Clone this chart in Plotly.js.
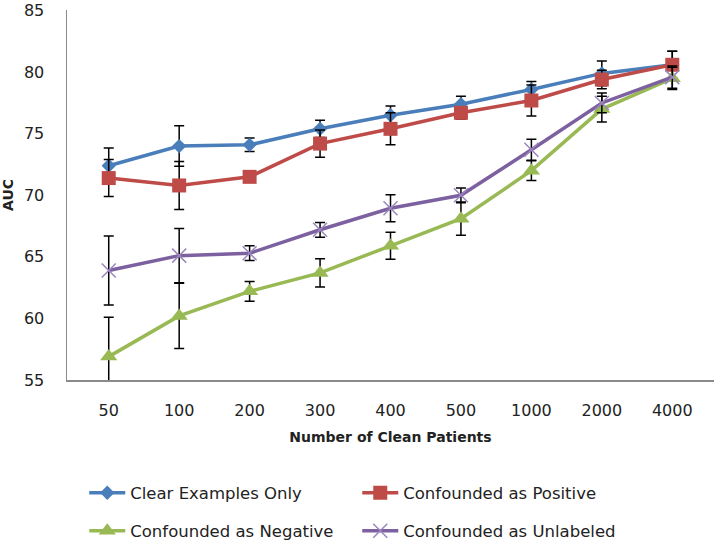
<!DOCTYPE html>
<html><head><meta charset="utf-8">
<script src="https://cdn.plot.ly/plotly-3.0.1.min.js"></script>
<style>body{margin:0;background:#fff}#chart{width:714px;height:546px}</style>
</head><body><div id="chart"></div>
<script>
const categories = ["50","100","200","300","400","500","1000","2000","4000"];
const seriesNames = ["Clear Examples Only","Confounded as Positive","Confounded as Negative","Confounded as Unlabeled"];
const clearOnly      = [72.4, 74.0, 74.1, 75.4, 76.5, 77.4, 78.6, 79.9, 80.6];
const clearOnlyErr   = [1.45, 1.65, 0.55, 0.7, 0.75, 0.65, 0.65, 1.0, 1.1];
const confPositive    = [71.4, 70.8, 71.5, 74.2, 75.4, 76.7, 77.7, 79.4, 80.6];
const confPositiveErr = [1.5, 1.95, 0.4, 1.1, 1.3, 0.5, 1.25, 0.75, 1.1];
const confNegative    = [56.9, 60.2, 62.2, 63.7, 65.9, 68.1, 72.0, 77.0, 79.5];
const confNegativeErr = [3.2, 2.65, 0.8, 1.15, 1.1, 1.35, 0.8, 1.05, 0.9];
const confUnlabeled    = [63.9, 65.1, 65.3, 67.2, 68.95, 70.0, 73.7, 77.5, 79.6];
const confUnlabeledErr = [2.8, 2.2, 0.6, 0.6, 1.1, 0.6, 0.85, 0.8, 0.9];
const yTicks = [55, 60, 65, 70, 75, 80, 85];

const FONT = "'DejaVu Sans', sans-serif";
function mk(name, y, err, color, symbol, size, legend, mline) {
  return {
    type: "scatter", mode: "lines+markers", name: name,
    x: categories, y: y, legend: legend,
    line: {color: color, width: 3.5},
    marker: {color: color, symbol: symbol, size: size, line: mline || {width: 0}},
    error_y: {type: "data", array: err, visible: true, color: "#000", thickness: 1.5, width: 5}
  };
}
const data = [
  mk(seriesNames[0], clearOnly, clearOnlyErr, "#4A7EBB", "diamond", 11, "legend"),
  mk(seriesNames[1], confPositive, confPositiveErr, "#BE4B48", "square", 14, "legend"),
  mk(seriesNames[2], confNegative, confNegativeErr, "#98B954", "triangle-up", 15, "legend2"),
  mk(seriesNames[3], confUnlabeled, confUnlabeledErr, "#7D60A0", "x-thin", 14, "legend2", {color: "#9C86BD", width: 1.5})
];
const legendBase = {
  orientation: "h", xref: "container", yref: "container", xanchor: "left", yanchor: "middle",
  entrywidth: 222, entrywidthmode: "pixels", bgcolor: "rgba(0,0,0,0)", itemwidth: 36,
  font: {family: FONT, size: 16.5, color: "#222"}
};
const layout = {
  width: 714, height: 546,
  margin: {l: 67, r: 0, t: 10, b: 166},
  paper_bgcolor: "#fff", plot_bgcolor: "#fff",
  font: {family: FONT, size: 15, color: "#222"},
  showlegend: true,
  xaxis: {
    type: "category", showgrid: false, zeroline: false, showline: true,
    linecolor: "#8A8A8A", linewidth: 1.5, ticks: "", ticklabelstandoff: 15,
    tickfont: {family: FONT, size: 16, color: "#222"},
    title: {text: "<b>Number of Clean Patients</b>", font: {family: FONT, size: 14, color: "#222"}, standoff: 13}
  },
  yaxis: {
    range: [55, 85.05], tickvals: yTicks, ticklabeloverflow: "allow", showgrid: false, zeroline: false, showline: true,
    linecolor: "#8A8A8A", linewidth: 1.5, ticks: "", ticklabelstandoff: 18,
    tickfont: {family: FONT, size: 16, color: "#222"},
    title: {text: "<b>AUC</b>", font: {family: FONT, size: 14, color: "#222"}, standoff: 11}
  },
  legend: Object.assign({}, legendBase, {x: 0.118, y: 1 - 493/546}),
  legend2: Object.assign({}, legendBase, {x: 0.118, y: 1 - 531/546})
};
Plotly.newPlot("chart", data, layout, {displayModeBar: false, staticPlot: true});
</script>
</body></html>
